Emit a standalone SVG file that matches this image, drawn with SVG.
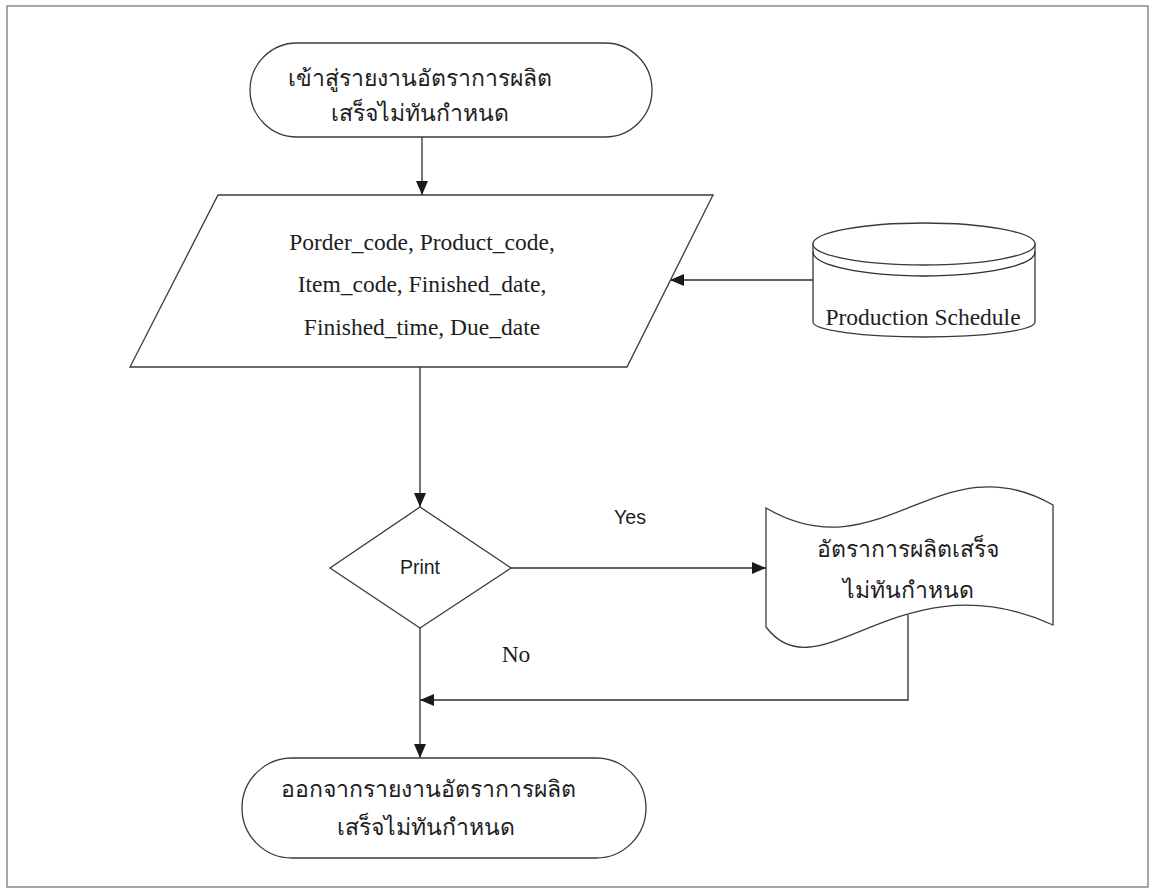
<svg xmlns="http://www.w3.org/2000/svg" width="1151" height="890" viewBox="0 0 1151 890">
  <style>
    .shape { fill: #ffffff; stroke: #3a3a3a; stroke-width: 1.3; }
    .line { fill: none; stroke: #2e2e2e; stroke-width: 1.3; }
    .thai { font-family: "Noto Sans", "DejaVu Sans", sans-serif; font-size: 23px; fill: #1e1e1e; text-anchor: middle; }
    .serif { font-family: "Liberation Serif", "Times New Roman", serif; font-size: 23.5px; fill: #1e1e1e; text-anchor: middle; }
    .sans { font-family: "Liberation Sans", Arial, sans-serif; font-size: 19.5px; fill: #1e1e1e; text-anchor: middle; }
  </style>
  <defs>
    <marker id="arrow" markerUnits="userSpaceOnUse" markerWidth="14" markerHeight="12" refX="14" refY="6" orient="auto">
      <path d="M0,0 L14,6 L0,12 Z" fill="#1a1a1a"/>
    </marker>
  </defs>

  <rect width="1151" height="890" fill="#ffffff"/>
  <!-- page frame -->
  <rect x="7" y="6" width="1141" height="881" fill="none" stroke="#8a8a8a" stroke-width="1.5"/>

  <g id="connectors">
    <path class="line" d="M422,137 V195" marker-end="url(#arrow)"/>
    <path class="line" d="M813,280 H670" marker-end="url(#arrow)"/>
    <path class="line" d="M420,367 V507" marker-end="url(#arrow)"/>
    <path class="line" d="M511,568 H766" marker-end="url(#arrow)"/>
    <path class="line" d="M908,615 V700 H420" marker-end="url(#arrow)"/>
    <path class="line" d="M420,628 V758" marker-end="url(#arrow)"/>
    <text class="sans" x="630" y="524" font-size="20">Yes</text>
    <text class="serif" x="516" y="662" font-size="21">No</text>
  </g>

  <g id="start">
    <rect class="shape" x="250" y="43" width="402" height="94" rx="47" ry="47"/>
    <text class="thai" x="420" y="86">เข้าสู่รายงานอัตราการผลิต</text>
    <text class="thai" x="420" y="121">เสร็จไม่ทันกำหนด</text>
  </g>

  <g id="input-fields">
    <polygon class="shape" points="218,195 713,195 627,367 130,367"/>
    <text class="serif" x="422" y="250">Porder_code, Product_code,</text>
    <text class="serif" x="422" y="292">Item_code, Finished_date,</text>
    <text class="serif" x="422" y="335">Finished_time, Due_date</text>
  </g>

  <g id="production-schedule">
    <path class="shape" d="M813,244 V322 A111,15 0 0 0 1035,322 V244 Z"/>
    <ellipse class="shape" cx="924" cy="244" rx="111" ry="21"/>
    <path class="line" d="M813,252 A111,24 0 0 0 1035,252"/>
    <text class="serif" x="923" y="325">Production Schedule</text>
  </g>

  <g id="print-decision">
    <polygon class="shape" points="420,507 511,568 420,628 330,568"/>
    <text class="sans" x="420" y="574">Print</text>
  </g>

  <g id="report">
    <path class="shape" d="M766,508 C880,575 940,440 1053,505 L1053,625 C900,555 820,698 766,627 Z"/>
    <text class="thai" x="908" y="557">อัตราการผลิตเสร็จ</text>
    <text class="thai" x="908" y="598">ไม่ทันกำหนด</text>
  </g>

  <g id="end">
    <rect class="shape" x="242" y="758" width="404" height="100" rx="50" ry="50"/>
    <text class="thai" x="428" y="797">ออกจากรายงานอัตราการผลิต</text>
    <text class="thai" x="426" y="835">เสร็จไม่ทันกำหนด</text>
  </g>
</svg>
